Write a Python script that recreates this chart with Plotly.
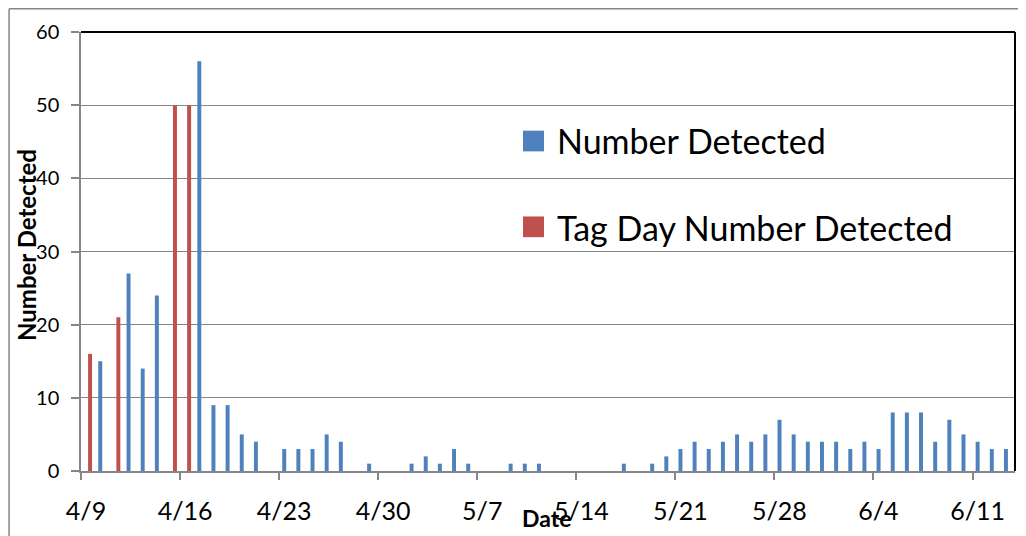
import plotly.graph_objects as go

# ---- data ----
blue_dates = [
    "2013-04-10", "2013-04-12", "2013-04-13", "2013-04-14", "2013-04-17",
    "2013-04-18", "2013-04-19", "2013-04-20", "2013-04-21", "2013-04-23",
    "2013-04-24", "2013-04-25", "2013-04-26", "2013-04-27", "2013-04-29",
    "2013-05-02", "2013-05-03", "2013-05-04", "2013-05-05", "2013-05-06",
    "2013-05-09", "2013-05-10", "2013-05-11", "2013-05-17", "2013-05-19",
    "2013-05-20", "2013-05-21", "2013-05-22", "2013-05-23", "2013-05-24",
    "2013-05-25", "2013-05-26", "2013-05-27", "2013-05-28", "2013-05-29",
    "2013-05-30", "2013-05-31", "2013-06-01", "2013-06-02", "2013-06-03",
    "2013-06-04", "2013-06-05", "2013-06-06", "2013-06-07", "2013-06-08",
    "2013-06-09", "2013-06-10", "2013-06-11", "2013-06-12", "2013-06-13",
]
blue_counts = [
    15, 27, 14, 24, 56,
    9, 9, 5, 4, 3,
    3, 3, 5, 4, 1,
    1, 2, 1, 3, 1,
    1, 1, 1, 1, 1,
    2, 3, 4, 3, 4,
    5, 4, 5, 7, 5,
    4, 4, 4, 3, 4,
    3, 8, 8, 8, 4,
    7, 5, 4, 3, 3,
]
red_dates = ["2013-04-09", "2013-04-11", "2013-04-15", "2013-04-16"]
red_counts = [16, 21, 50, 50]

blue_name = "Number Detected"
red_name = "Tag Day Number Detected"
x_title = "Date"
y_title = "Number Detected"
x_range = ["2013-04-09", "2013-06-14"]

BLUE = "#4F81BD"
RED = "#C0504D"
GRID = "#868686"
FONT = "Lato"
DAY = 86400000

fig = go.Figure()
fig.add_trace(go.Bar(x=blue_dates, y=blue_counts, name=blue_name,
                     marker=dict(color=BLUE, line=dict(width=0)),
                     width=0.28 * DAY, offset=0.22 * DAY, showlegend=False))
fig.add_trace(go.Bar(x=red_dates, y=red_counts, name=red_name,
                     marker=dict(color=RED, line=dict(width=0)),
                     width=0.28 * DAY, offset=0.50 * DAY, showlegend=False))

# page body adds an 8px offset, so the figure is sized/margined to compensate
fig.update_layout(
    width=1018, height=528,
    margin=dict(l=73, r=11, t=24, b=59),
    paper_bgcolor="white", plot_bgcolor="white",
    barmode="overlay",
    font=dict(family=FONT, color="black"),
    xaxis=dict(
        type="date", range=x_range, tick0="2013-04-09", dtick=7 * DAY,
        tickformat="%-m/%-d", showgrid=False, showline=True,
        linecolor=GRID, linewidth=1.5, ticks="outside", ticklen=7,
        tickcolor=GRID, tickwidth=1.5, tickfont=dict(size=25, family=FONT),
        ticklabelshift=5, ticklabelstandoff=10, zeroline=False,
    ),
    yaxis=dict(
        range=[0, 60], dtick=10, showgrid=True, gridcolor=GRID, gridwidth=1.2,
        showline=True, linecolor=GRID, linewidth=1.5, ticks="outside",
        ticklen=8, tickcolor=GRID, tickwidth=1.5,
        tickfont=dict(size=20, family=FONT), ticklabelstandoff=8,
        zeroline=False,
    ),
)

# plot-area border (black top and right) and outer chart border (grey)
fig.add_shape(type="line", xref="paper", yref="paper", x0=0, x1=1, y0=1, y1=1,
              line=dict(color="black", width=2))
fig.add_shape(type="line", xref="paper", yref="paper", x0=1, x1=1, y0=0, y1=1,
              line=dict(color="black", width=2))
fig.add_shape(type="line", xref="paper", yref="paper", x0=-0.0770, x1=1.02,
              y0=1.0528, y1=1.0528, line=dict(color=GRID, width=1.5))
fig.add_shape(type="line", xref="paper", yref="paper", x0=-0.0770, x1=-0.0770,
              y0=1.0528, y1=-0.25, line=dict(color=GRID, width=1.5))

# legend (inside plot area, transparent)
fig.add_shape(type="rect", xref="paper", yref="paper", x0=0.4732, x1=0.4957,
              y0=0.7281, y1=0.7753, fillcolor=BLUE, line=dict(width=0))
fig.add_shape(type="rect", xref="paper", yref="paper", x0=0.4732, x1=0.4957,
              y0=0.5326, y1=0.5798, fillcolor=RED, line=dict(width=0))
fig.add_annotation(text=blue_name, xref="paper", yref="paper", x=0.5075,
                   y=0.7528, xanchor="left", yanchor="middle", showarrow=False,
                   font=dict(size=34, family=FONT, color="black"))
fig.add_annotation(text=red_name, xref="paper", yref="paper", x=0.5075,
                   y=0.5551, xanchor="left", yanchor="middle", showarrow=False,
                   font=dict(size=34, family=FONT, color="black"))

# axis titles
fig.add_annotation(text="<b>" + y_title + "</b>", xref="paper", yref="paper",
                   x=-0.0590, y=0.5146, textangle=-90, showarrow=False,
                   xanchor="center", yanchor="middle",
                   font=dict(size=24, family=FONT, color="black"))
fig.add_annotation(text="<b>" + x_title + "</b>", xref="paper", yref="paper",
                   x=0.4989, y=-0.108, showarrow=False,
                   xanchor="center", yanchor="middle",
                   font=dict(size=23, family=FONT, color="black"))

fig.write_html("out.html")
